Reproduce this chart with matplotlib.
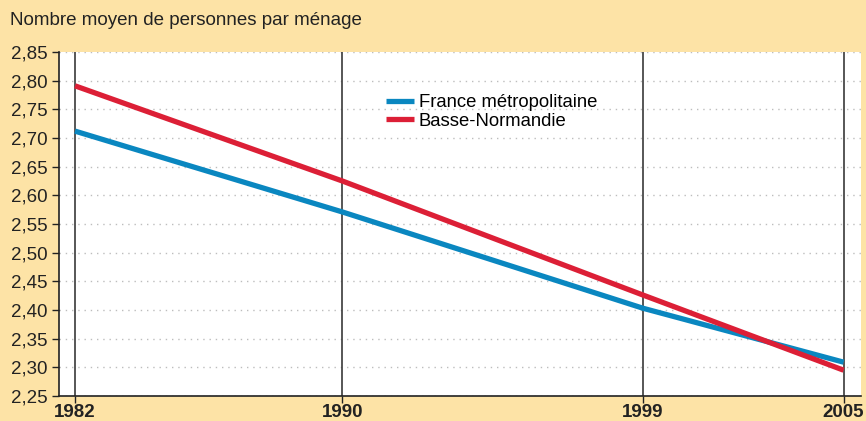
import matplotlib.pyplot as plt
from matplotlib.ticker import MultipleLocator, FuncFormatter

plt.rcParams['font.family'] = ['Liberation Sans', 'DejaVu Sans']

years = [1982, 1990, 1999, 2005]
france = [2.712, 2.571, 2.403, 2.309]
basse_normandie = [2.791, 2.625, 2.426, 2.295]

bg = '#fde3a6'
blue = '#0a87c0'
red = '#dc1f36'

fig = plt.figure(figsize=(8.66, 4.21), dpi=100, facecolor=bg)
ax = fig.add_axes([0.0681, 0.0594, 0.9261, 0.8171])
ax.set_facecolor('white')

ax.set_xlim(1981.52, 2005.52)
ax.set_ylim(2.25, 2.85)

# grille horizontale pointillée
ax.yaxis.set_major_locator(MultipleLocator(0.05))
ax.grid(axis='y', color='#bdbdbd', linestyle=(0, (1, 3.5)), linewidth=1)
ax.set_axisbelow(True)

# lignes verticales aux années
for y in years:
    ax.axvline(y, color='#3a3a3a', linewidth=1.2, zorder=1)

ax.plot(years, france, color=blue, linewidth=3.8, solid_capstyle='butt',
        label='France métropolitaine', zorder=3)
ax.plot(years, basse_normandie, color=red, linewidth=3.8, solid_capstyle='butt',
        label='Basse-Normandie', zorder=3)

ax.set_xticks(years)
ax.set_xticklabels([str(y) for y in years], fontweight='bold', fontsize=13.5)
ax.yaxis.set_major_formatter(FuncFormatter(lambda v, p: f'{v:.2f}'.replace('.', ',')))
ax.tick_params(axis='y', labelsize=13.5, length=5, width=1, color='#222222',
               labelcolor='#222222', pad=3)
ax.tick_params(axis='x', length=5, width=1, color='#222222',
               labelcolor='#222222', pad=1)

for s in ['top', 'right']:
    ax.spines[s].set_visible(False)
for s in ['left', 'bottom']:
    ax.spines[s].set_color('#222222')
    ax.spines[s].set_linewidth(1.2)

ax.legend(loc='upper left', bbox_to_anchor=(0.398, 0.898), frameon=False,
          fontsize=13.3, handlelength=1.55, handletextpad=0.25, labelspacing=0.08,
          borderaxespad=0)

fig.text(0.012, 0.952, 'Nombre moyen de personnes par ménage', fontsize=13.5,
         color='#222222', ha='left', va='center')

fig.savefig('out.png', dpi=100, facecolor=bg)
